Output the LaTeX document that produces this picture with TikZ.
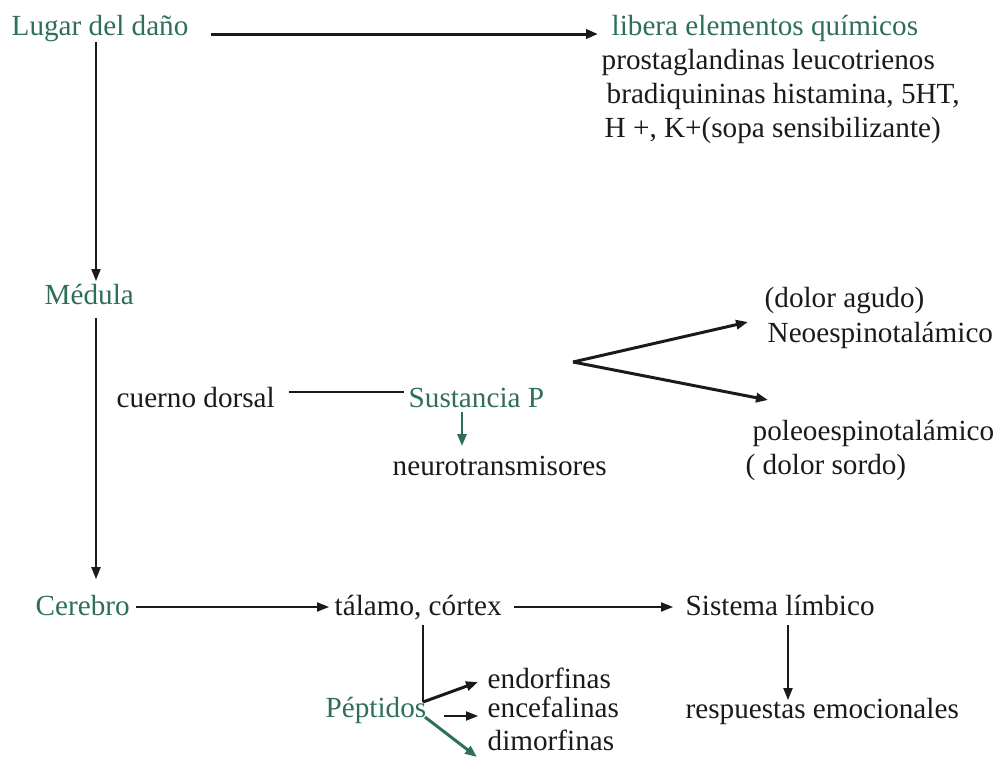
\documentclass[tikz,border=0pt]{standalone}
\usepackage{fontspec}
\setmainfont{Liberation Serif}
\usepackage{xcolor}
\usepackage{tikz}
\usetikzlibrary{calc,arrows.meta,positioning}
\definecolor{ink}{HTML}{1A1A1A}
\definecolor{verde}{HTML}{2F6E5B}
\tikzset{
  base/.style={draw=ink, line width=0.45pt},
  gruesa/.style={draw=ink, line width=0.85pt},
  verdel/.style={draw=verde, line width=0.7pt},
  arr/.style={-{Triangle[length=3.4pt,width=2.6pt]}},
  lab/.style={text=ink, inner sep=0pt, anchor=base west, font=\fontsize{8.3}{10}\selectfont},
  labg/.style={lab, text=verde},
}
\begin{document}
\begin{tikzpicture}[x=0.01cm,y=-0.01cm]
\useasboundingbox (0,0) rectangle (999,760);
\node[labg] (lugar) at (11,35) {Lugar del daño};
\node[labg] (libera) at (611,35) {libera elementos químicos};
\node[lab] (prosta) at (601,69) {prostaglandinas leucotrienos};
\node[lab] (bradi) at (606,103) {bradiquininas histamina, 5HT,};
\node[lab] (sopa) at (604,137) {H +, K+(sopa sensibilizante)};
\node[labg] (medula) at (44,304) {Médula};
\node[lab] (agudo) at (764,307) {(dolor agudo)};
\node[lab] (neo) at (767,342) {Neoespinotalámico};
\node[lab] (cuerno) at (116,407) {cuerno dorsal};
\node[labg] (sust) at (408,407) {Sustancia P};
\node[lab] (poleo) at (752,440) {poleoespinotalámico};
\node[lab] (sordo) at (745,474) {( dolor sordo)};
\node[lab] (neuro) at (392,475) {neurotransmisores};
\node[labg] (cerebro) at (35,615) {Cerebro};
\node[lab] (talamo) at (334,615) {tálamo, córtex};
\node[lab] (sistema) at (685,615) {Sistema límbico};
\node[lab] (endor) at (487,688) {endorfinas};
\node[labg] (pept) at (325,717) {Péptidos};
\node[lab] (encef) at (487,717) {encefalinas};
\node[lab] (resp) at (685,718) {respuestas emocionales};
\node[lab] (dimor) at (487,750) {dimorfinas};

\draw[gruesa,arr] ($(lugar.base east)+(22,-1)$) -- ($(libera.base west)+(-13,-1)$);
\draw[base,arr] ($(lugar.south west)+(85,0)$) coordinate (l1) -- ($(l1 |- medula.north)+(0,-2)$);
\draw[base,arr] ($(medula.south west)+(52,13)$) coordinate (m1) -- ($(m1 |- cerebro.north)+(0,-15)$);
\draw[base, line width=0.6pt] ($(cuerno.base east)+(14,-15)$) -- ($(sust.base west)+(-4,-15)$);
\draw[verdel,arr] ($(sust.base west)+(54,5)$) coordinate (s1) -- ($(s1 |- neuro.north)+(0,-9)$);
\coordinate (fork) at (573,362);
\draw[gruesa,arr] (fork) -- ($(neo.base west)+(-19,-20)$);
\draw[gruesa,arr] (fork) -- ($(poleo.base west)+(16,-40)$);
\draw[base,arr] ($(cerebro.base east)+(6,-8)$) -- ($(talamo.base west)+(-5,-8)$);
\draw[base,arr] ($(talamo.base east)+(12,-8)$) -- ($(sistema.base west)+(-12,-8)$);
\draw[base,arr] ($(sistema.base west)+(103,10)$) coordinate (s2) -- ($(s2 |- resp.base)+(0,-18)$);
\draw[base] ($(talamo.base west)+(89,10)$) coordinate (t1) -- (t1 |- 0,702) coordinate (pbend);
\draw[gruesa,arr] (pbend) -- ($(endor.base west)+(-9,-6)$);
\draw[base,arr] ($(pept.base east)+(17,-1)$) -- ($(encef.base west)+(-9,-1)$);
\draw[verdel,line width=0.85pt,arr] ($(pept.base east)+(-2,0)$) -- ($(dimor.base west)+(-10,7)$);
\end{tikzpicture}
\end{document}
